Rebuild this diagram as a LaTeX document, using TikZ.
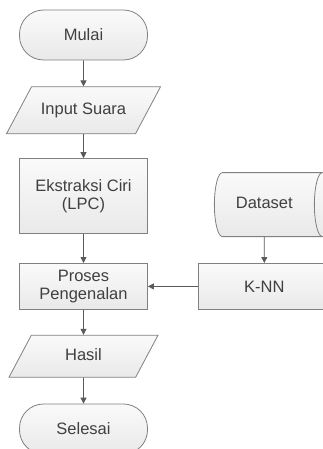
\documentclass[tikz,border=0pt]{standalone}
\usepackage{fontspec}
\setmainfont{Liberation Sans}
\usepackage{tikz}
\usetikzlibrary{arrows.meta,positioning,shapes.geometric}
\definecolor{edge}{HTML}{808080}
\definecolor{shadetop}{HTML}{FAFAFA}
\definecolor{shadebot}{HTML}{E9E9E9}
\definecolor{ink}{HTML}{404040}
\definecolor{wire}{HTML}{5A5A5A}

\begin{document}
\begin{tikzpicture}[
  base/.style={draw=edge,line width=0.8pt,top color=shadetop,bottom color=shadebot,text=ink,font=\fontsize{16.5}{18}\selectfont,align=center,inner sep=2pt},
  terminal/.style={base,rectangle,rounded corners=24pt,minimum width=128pt,minimum height=50pt},
  io/.style={base,trapezium,trapezium left angle=62,trapezium right angle=118,trapezium stretches body,text height=12pt,text depth=4pt,inner ysep=15.5pt,minimum width=154pt},
  process/.style={base,rectangle,minimum width=128pt,minimum height=46pt},
  store/.style={base,cylinder,aspect=0.25,text height=12pt,text depth=4pt,inner ysep=24pt,minimum height=116pt},
  flow/.style={draw=wire,line width=0.8pt},
  >={Triangle[length=6pt,width=6pt]},node distance=26pt and 50pt]
  \useasboundingbox (0,0) rectangle (323pt,-449pt);

  \node[terminal] (mulai) at (83.5pt,-35pt) {Mulai};
  \node[io,below=of mulai] (input) {Input Suara};
  \node[process,below=24pt of input,minimum height=75pt] (ciri) {Ekstraksi Ciri\\(LPC)};
  \node[process,below=29pt of ciri] (kenal) {Proses\\Pengenalan};
  \node[io,below=25pt of kenal,inner ysep=13pt,minimum width=149pt] (hasil) {Hasil};
  \node[terminal,below=of hasil] (selesai) {Selesai};
  \node[process,right=of kenal,minimum width=132pt] (knn) {K-NN};
  \node[store,above=of knn] (data) {Dataset};

  \draw[->,flow] (mulai)--(input);
  \draw[->,flow] (input)--(ciri);
  \draw[->,flow] (ciri)--(kenal);
  \draw[->,flow] (kenal)--(hasil);
  \draw[->,flow] (hasil)--(selesai);
  \draw[->,flow] (data)--(knn);
  \draw[->,flow] (knn)--(kenal);
\end{tikzpicture}
\end{document}
